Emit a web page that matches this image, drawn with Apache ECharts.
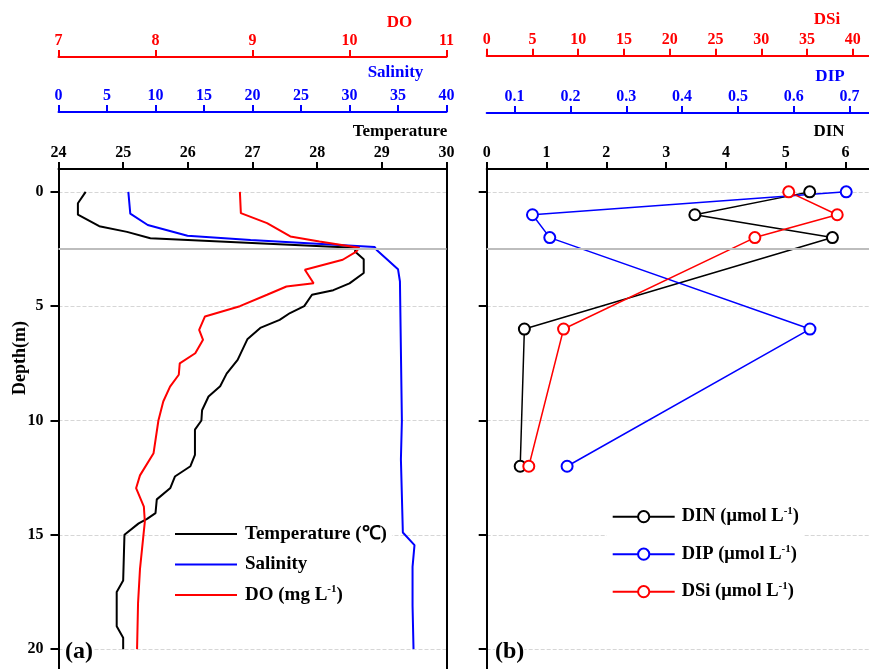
<!DOCTYPE html>
<html>
<head>
<meta charset="utf-8">
<script src="https://cdn.jsdelivr.net/npm/echarts@6/dist/echarts.min.js"></script>
<style>html,body{margin:0;padding:0;background:#fff;}#c{width:869px;height:669px;}</style>
</head>
<body>
<div id="c"></div>
<script>
// ---- Panel (a): CTD profiles ----
const tempDepth = [0,0.5,1.0,1.5,1.75,2.03,2.45,2.6,2.95,3.55,4.0,4.3,4.5,5.0,5.3,5.6,5.95,6.45,7.35,7.95,8.5,8.95,9.55,10.0,10.4,11.5,12.0,12.45,12.95,13.45,14.05,14.3,14.5,15.0,17.0,17.5,19.0,19.5,20.0];
const tempValues = [24.42,24.30,24.30,24.63,25.06,25.42,28.65,28.58,28.72,28.72,28.50,28.25,27.92,27.80,27.58,27.42,27.12,26.92,26.77,26.60,26.50,26.32,26.22,26.21,26.11,26.11,26.04,25.80,25.73,25.52,25.50,25.37,25.24,25.02,25.00,24.90,24.90,25.00,25.00];
const salDepth = [0,0.95,1.45,1.92,2.1,2.41,2.54,3.38,3.92,10.0,11.7,14.9,15.45,16.4,18.1,20.0];
const salValues = [7.2,7.4,9.2,13.3,19.8,32.6,32.8,35.0,35.2,35.4,35.3,35.5,36.7,36.5,36.5,36.6];
const doDepth = [0,0.93,1.37,1.95,2.17,2.44,2.61,2.97,3.41,4.0,4.14,4.5,5.0,5.45,6.04,6.47,7.06,7.5,8.0,8.52,9.17,10.0,11.43,12.4,12.96,13.77,14.42,16.5,18.0,20.0];
const doValues = [8.87,8.88,9.15,9.39,9.69,10.10,10.07,9.93,9.54,9.63,9.35,9.15,8.87,8.51,8.45,8.49,8.41,8.25,8.24,8.15,8.08,8.03,7.98,7.84,7.80,7.88,7.89,7.84,7.82,7.81];

// ---- Panel (b): nutrients ----
const nutDepth = [0,1,2,6,12];
const dinValues = [5.40,3.48,5.78,0.63,0.56];
const dipValues = [0.694,0.132,0.163,0.629,0.194];
const dsiValues = [33.0,38.3,29.3,8.4,4.6];

// ---- Axis ticks ----
const depthTicks = [0,5,10,15,20];
const dipTicks = [0.1,0.2,0.3,0.4,0.5,0.6,0.7];
const thermoclineDepth = 2.5;

const FONT = "'Liberation Serif','Times New Roman',serif";
const pair = (vals, deps) => vals.map((v,i)=>[v, deps[i]]);

const GT = 169, GH = 503;
function topAxis(grid, offset, min, max, interval, color, extra) {
  return Object.assign({
    type:'value', gridIndex:grid, position:'top', offset:offset, min:min, max:max, interval:interval,
    axisLine:{show:true, onZero:false, lineStyle:{color:color, width:2}},
    axisTick:{show:true, inside:false, length:7, lineStyle:{color:color, width:2}},
    axisLabel:{color:color, fontFamily:FONT, fontWeight:'bold', fontSize:16, margin:8},
    splitLine:{show:false}
  }, extra||{});
}
function depthAxis(grid, showLabel, position) {
  return {
    type:'value', gridIndex:grid, inverse:true, min:-1, max:21, position:position||'left',
    axisLine:{show:true, onZero:false, lineStyle:{color:'#000', width:2}},
    axisTick:{show:position!=='right', inside:false, length:8, customValues:depthTicks, lineStyle:{color:'#000', width:2}},
    axisLabel:{show:showLabel, customValues:depthTicks, color:'#000', fontFamily:FONT, fontWeight:'bold', fontSize:16, margin:15},
    splitLine:{show:position!=='right', lineStyle:{type:'dashed', color:'#d6d6d6', width:1}}
  };
}
const tline = {silent:true, symbol:'none', label:{show:false}, lineStyle:{color:'#bdbdbd', width:2, type:'solid'}, data:[{yAxis:thermoclineDepth}]};

const richSup = {sup:{fontSize:11, fontFamily:FONT, fontWeight:'bold', verticalAlign:'top', padding:[0,0,10,0]}};
const legendFmt = n => n.replace('L-1)', 'L{sup|-1})');

const option = {
  animation:false,
  backgroundColor:'#fff',
  grid:[
    {left:58.5, top:GT, width:388, height:GH, outerBoundsMode:'none', containLabel:false},
    {left:486.7, top:GT, width:418.7, height:GH, outerBoundsMode:'none', containLabel:false}
  ],
  xAxis:[
    topAxis(0, 0, 24, 30, 1, '#000'),
    topAxis(0, 57, 0, 40, 5, '#0000ff'),
    topAxis(0, 112, 7, 11, 1, '#ff0000'),
    topAxis(1, 0, 0, 7, 1, '#000'),
    topAxis(1, 56, 0.05, 0.8, null, '#0000ff', {
      axisTick:{show:true, inside:false, length:7, customValues:dipTicks, lineStyle:{color:'#0000ff', width:2}},
      axisLabel:{customValues:dipTicks, color:'#0000ff', fontFamily:FONT, fontWeight:'bold', fontSize:16, margin:8, formatter:v=>v.toFixed(1)}
    }),
    topAxis(1, 113.3, 0, 45.75, 5, '#ff0000')
  ],
  yAxis:[
    depthAxis(0, true, 'left'),
    depthAxis(0, false, 'right'),
    depthAxis(1, false, 'left')
  ],
  legend:[
    {
      orient:'vertical', left:170, top:518, padding:5, icon:'rect', itemWidth:62, itemHeight:2.2, itemGap:8.5,
      backgroundColor:'#fff',
      data:['Temperature (℃)','Salinity','DO (mg L-1)'],
      formatter:legendFmt,
      textStyle:{color:'#000', fontFamily:FONT, fontWeight:'bold', fontSize:19, lineHeight:22, padding:[0,0,0,3], rich:richSup}
    },
    {
      orient:'vertical', left:606.7, top:500.7, padding:5, itemWidth:62, itemHeight:14, itemGap:15.5,
      backgroundColor:'#fff',
      data:['DIN (μmol L-1)','DIP (μmol L-1)','DSi (μmol L-1)'],
      formatter:legendFmt,
      textStyle:{color:'#000', fontFamily:FONT, fontWeight:'bold', fontSize:18.5, lineHeight:22, padding:[0,0,0,2], rich:richSup}
    }
  ],
  graphic:[
    {type:'text', x:399.5, y:23, style:{text:'DO', fill:'#ff0000', font:"bold 17px "+FONT, textAlign:'center', textVerticalAlign:'middle'}},
    {type:'text', x:395.5, y:73, style:{text:'Salinity', fill:'#0000ff', font:"bold 17px "+FONT, textAlign:'center', textVerticalAlign:'middle'}},
    {type:'text', x:400, y:132, style:{text:'Temperature', fill:'#000', font:"bold 17px "+FONT, textAlign:'center', textVerticalAlign:'middle'}},
    {type:'text', x:827, y:20, style:{text:'DSi', fill:'#ff0000', font:"bold 17px "+FONT, textAlign:'center', textVerticalAlign:'middle'}},
    {type:'text', x:830, y:77, style:{text:'DIP', fill:'#0000ff', font:"bold 17px "+FONT, textAlign:'center', textVerticalAlign:'middle'}},
    {type:'text', x:829, y:132, style:{text:'DIN', fill:'#000', font:"bold 17px "+FONT, textAlign:'center', textVerticalAlign:'middle'}},
    {type:'text', x:20, y:358, rotation:Math.PI/2, style:{text:'Depth(m)', fill:'#000', font:"bold 18px "+FONT, textAlign:'center', textVerticalAlign:'middle'}},
    {type:'text', z:100, x:65, y:652, style:{text:'(a)', fill:'#000', backgroundColor:'#fff', font:"bold 24px "+FONT, textAlign:'left', textVerticalAlign:'middle'}},
    {type:'text', z:100, x:495, y:652, style:{text:'(b)', fill:'#000', backgroundColor:'#fff', font:"bold 24px "+FONT, textAlign:'left', textVerticalAlign:'middle'}}
  ],
  series:[
    {name:'Temperature (℃)', type:'line', xAxisIndex:0, yAxisIndex:0, data:pair(tempValues,tempDepth), symbol:'none', lineStyle:{color:'#000', width:2}, itemStyle:{color:'#000'}, markLine:tline, z:3},
    {name:'Salinity', type:'line', xAxisIndex:1, yAxisIndex:0, data:pair(salValues,salDepth), symbol:'none', lineStyle:{color:'#0000ff', width:2}, itemStyle:{color:'#0000ff'}, z:3},
    {name:'DO (mg L-1)', type:'line', xAxisIndex:2, yAxisIndex:0, data:pair(doValues,doDepth), symbol:'none', lineStyle:{color:'#ff0000', width:2}, itemStyle:{color:'#ff0000'}, z:3},
    {name:'DIN (μmol L-1)', type:'line', xAxisIndex:3, yAxisIndex:2, data:pair(dinValues,nutDepth), symbol:'emptyCircle', symbolSize:11, lineStyle:{color:'#000', width:1.5}, itemStyle:{color:'#000', borderWidth:2}, markLine:tline, z:3},
    {name:'DIP (μmol L-1)', type:'line', xAxisIndex:4, yAxisIndex:2, data:pair(dipValues,nutDepth), symbol:'emptyCircle', symbolSize:11, lineStyle:{color:'#0000ff', width:1.5}, itemStyle:{color:'#0000ff', borderWidth:2}, z:3},
    {name:'DSi (μmol L-1)', type:'line', xAxisIndex:5, yAxisIndex:2, data:pair(dsiValues,nutDepth), symbol:'emptyCircle', symbolSize:11, lineStyle:{color:'#ff0000', width:1.5}, itemStyle:{color:'#ff0000', borderWidth:2}, z:3}
  ]
};
const chart = echarts.init(document.getElementById('c'), null, {renderer:'canvas'});
chart.setOption(option);
</script>
</body>
</html>
